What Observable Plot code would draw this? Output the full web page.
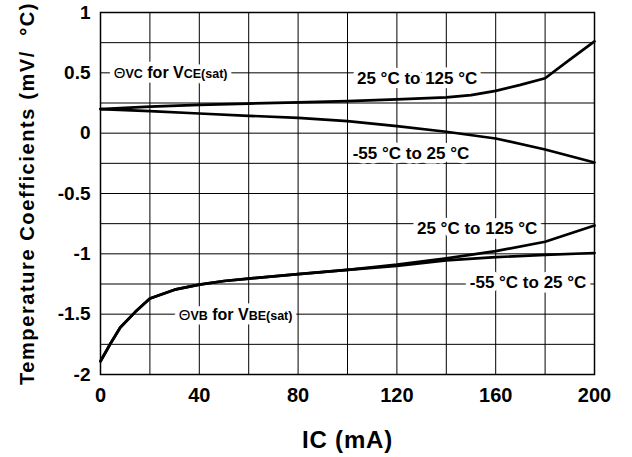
<!DOCTYPE html>
<html>
<head>
<meta charset="utf-8">
<script src="https://cdn.jsdelivr.net/npm/d3@7"></script>
<script src="https://cdn.jsdelivr.net/npm/@observablehq/plot@0.6"></script>
<style>
  body { margin: 0; background: #fff; }
  #chart svg { font-family: "Liberation Sans", Arial, sans-serif; }
</style>
</head>
<body>
<div id="chart"></div>
<script>
// Axis ticks and grid
const xTicks = [0, 40, 80, 120, 160, 200];
const yTicks = [1, 0.5, 0, -0.5, -1, -1.5, -2];
const xGrid = [0, 20, 40, 60, 80, 100, 120, 140, 160, 180, 200];
const yGrid = [1, 0.75, 0.5, 0.25, 0, -0.25, -0.5, -0.75, -1, -1.25, -1.5, -1.75, -2];

// θVC for VCE(sat), 25 °C to 125 °C
const vceHotIc = [0, 20, 40, 60, 80, 100, 120, 140, 150, 160, 170, 180, 190, 200];
const vceHotCoef = [0.20, 0.22, 0.235, 0.245, 0.255, 0.265, 0.28, 0.296, 0.315, 0.35, 0.40, 0.455, 0.61, 0.76];

// θVC for VCE(sat), -55 °C to 25 °C
const vceColdIc = [0, 20, 40, 60, 80, 100, 120, 140, 160, 180, 200];
const vceColdCoef = [0.20, 0.183, 0.163, 0.144, 0.127, 0.10, 0.058, 0.012, -0.044, -0.135, -0.243];

// θVB for VBE(sat), 25 °C to 125 °C
const vbeHotIc = [0, 4, 8, 14, 20, 30, 40, 50, 60, 80, 100, 120, 140, 160, 180, 200];
const vbeHotCoef = [-1.89, -1.745, -1.61, -1.483, -1.37, -1.297, -1.255, -1.225, -1.205, -1.168, -1.133, -1.09, -1.037, -0.978, -0.90, -0.765];

// θVB for VBE(sat), -55 °C to 25 °C
const vbeColdIc = [0, 4, 8, 14, 20, 30, 40, 50, 60, 80, 100, 120, 140, 160, 180, 200];
const vbeColdCoef = [-1.89, -1.745, -1.61, -1.483, -1.37, -1.297, -1.255, -1.225, -1.205, -1.168, -1.133, -1.10, -1.055, -1.028, -1.008, -0.993];

// Curve annotations: text runs ("sym" = theta glyph, "sub" = small subscript letters)
const labelParts = [
  [["Θ", "sym"], ["VC", "sub"], [" for V", ""], ["CE(sat)", "sub"]],
  [["25 °C to 125 °C", "big"]],
  [["-55 °C to 25 °C", "big"]],
  [["25 °C to 125 °C", "big"]],
  [["-55 °C to 25 °C", "big"]],
  [["Θ", "sym"], ["VB", "sub"], [" for V", ""], ["BE(sat)", "sub"]]
];
const labelIc = [28.4, 128.2, 125.7, 152.5, 173.1, 54.7];
const labelCoef = [0.498, 0.454, -0.174, -0.797, -1.241, -1.51];

const xTitle = "IC (mA)";
const yTitle = "Temperature Coefficients (mV/\u00a0 °C)";

const toRows = (xs, ys) => xs.map((x, i) => ({x, y: ys[i]}));
const curves = [
  toRows(vceHotIc, vceHotCoef),
  toRows(vceColdIc, vceColdCoef),
  toRows(vbeHotIc, vbeHotCoef),
  toRows(vbeColdIc, vbeColdCoef)
];
const labels = labelParts.map((parts, i) => ({
  x: labelIc[i],
  y: labelCoef[i],
  text: parts.map(p => p[0]).join("")
}));

const labelOptions = {
  x: "x", y: "y", text: "text",
  textAnchor: "middle", lineAnchor: "middle",
  fontSize: 16, fontWeight: "bold"
};

const chart = Plot.plot({
  width: 632,
  height: 457,
  marginLeft: 100,
  marginRight: 38,
  marginTop: 12,
  marginBottom: 83,
  style: {fontFamily: "'Liberation Sans', Arial, sans-serif", fontWeight: "bold", color: "#000", background: "#fff"},
  x: {domain: [0, 200]},
  y: {domain: [-2, 1]},
  marks: [
    Plot.ruleX(xGrid, {stroke: "#000", strokeWidth: 1}),
    Plot.ruleY(yGrid, {stroke: "#000", strokeWidth: 1}),
    // white backing that clears the grid behind each annotation
    Plot.text(labels, {...labelOptions, fill: "#fff", stroke: "#fff", strokeWidth: 9, ariaDescription: "curve label backing"}),
    Plot.text(labels, {...labelOptions, fill: "#000", ariaDescription: "curve label"}),
    ...curves.map(rows => Plot.line(rows, {
      x: "x", y: "y", stroke: "#000", strokeWidth: 2.7, strokeLinejoin: "round", curve: "linear"
    })),
    Plot.frame({stroke: "#000", strokeWidth: 1.5}),
    Plot.axisX({ticks: xTicks, tickSize: 0, tickPadding: 13, fontSize: 20, fontWeight: "bold", label: null, tickFormat: d => String(d)}),
    Plot.axisY({ticks: yTicks, tickSize: 0, tickPadding: 10, fontSize: 19, fontWeight: "bold", label: null, tickFormat: d => String(d)}),
    Plot.text([xTitle], {frameAnchor: "bottom", dy: 66, text: d => d, fontSize: 24, fontWeight: "bold", textAnchor: "middle", lineAnchor: "middle", fill: "#000", ariaDescription: "x title"}),
    Plot.text([yTitle], {frameAnchor: "left", dx: -73, rotate: -90, text: d => d, fontSize: 20, fontWeight: "bold", textAnchor: "middle", lineAnchor: "middle", fill: "#000", ariaDescription: "y title"})
  ]
});

// Split each annotation into styled runs (theta glyph, small subscripts)
for (const desc of ["curve label backing", "curve label"]) {
  d3.select(chart).selectAll(`g[aria-description="${desc}"] text`).each(function(_, i) {
    const el = d3.select(this);
    el.text(null);
    for (const [t, kind] of labelParts[i]) {
      const ts = el.append("tspan").text(t);
      if (kind === "sym") ts.attr("font-size", 15).attr("font-weight", "normal");
      if (kind === "sub") ts.attr("font-size", 12.5);
      if (kind === "big") ts.attr("font-size", 17);
    }
  });
}

// Wider tracking on the axis titles
d3.select(chart).selectAll('g[aria-description="y title"] text').attr("letter-spacing", 1.6);
d3.select(chart).selectAll('g[aria-description="x title"] text').attr("letter-spacing", 0.8);

document.getElementById("chart").append(chart);
</script>
</body>
</html>
